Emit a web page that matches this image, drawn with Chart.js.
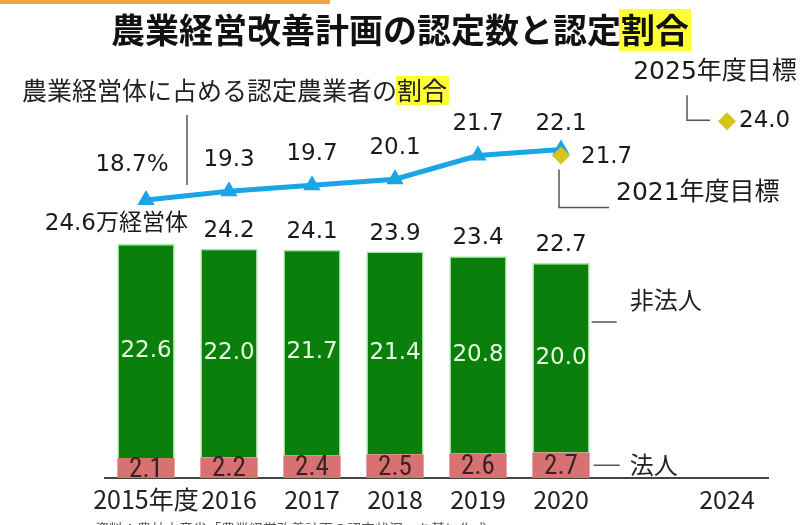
<!DOCTYPE html>
<html><head><meta charset="utf-8">
<script src="https://cdn.jsdelivr.net/npm/chart.js@4.4.1/dist/chart.umd.min.js"></script>
<style>html,body{margin:0;padding:0;background:#fff;} canvas{display:block;}</style>
</head><body>
<canvas id="c" width="810" height="525"></canvas>
<script>
// ---- data ----
const categories = ['2015年度','2016','2017','2018','2019','2020','','2024'];
const corporate = [2.1,2.2,2.4,2.5,2.6,2.7,null,null];          // 法人
const nonCorporate = [22.6,22.0,21.7,21.4,20.8,20.0,null,null];  // 非法人
const totalLabels = ['24.6万経営体','24.2','24.1','23.9','23.4','22.7'];
const shareRate = [18.7,19.3,19.7,20.1,21.7,22.1,null,null];     // 割合 (%)
const shareLabels = ['18.7%','19.3','19.7','20.1','21.7','22.1'];
const target2021 = [null,null,null,null,null,21.7,null,null];
const target2025 = [null,null,null,null,null,null,null,24.0];
const titleMain = '農業経営改善計画の認定数と認定';
const titleHi = '割合';
const subMain = '農業経営体に占める認定農業者の';
const subHi = '割合';
const note = '資料：農林水産省「農業経営改善計画の認定状況」を基に作成';

const JP = '"Noto Sans CJK JP", sans-serif';
const NUM = '"DejaVu Sans", "Noto Sans CJK JP", sans-serif';
const NARROW = '"Liberation Sans Narrow", "Roboto Condensed", "Liberation Sans", sans-serif';

const labelsPlugin = {
  id: 'labels',
  beforeDraw(chart) {
    const ctx = chart.ctx;
    ctx.save();
    // orange strip
    ctx.fillStyle = '#f2a444';
    ctx.fillRect(0, 0, 330, 4);
    // title
    ctx.font = 'bold 34px ' + JP;
    ctx.textBaseline = 'middle';
    const wMain = ctx.measureText(titleMain).width;
    const wHi = ctx.measureText(titleHi).width;
    const tx = 400 - (wMain + wHi) / 2;
    ctx.fillStyle = '#ffff33';
    ctx.fillRect(tx + wMain - 2, 9, wHi + 4, 42);
    ctx.fillStyle = '#111';
    ctx.textAlign = 'left';
    ctx.fillText(titleMain, tx, 30);
    ctx.fillText(titleHi, tx + wMain, 30);
    // subtitle
    ctx.font = '25px ' + JP;
    const sw = ctx.measureText(subMain).width;
    const shw = ctx.measureText(subHi).width;
    ctx.fillStyle = '#ffff33';
    ctx.fillRect(22 + sw - 1, 76, shw + 3, 29);
    ctx.fillStyle = '#222';
    ctx.fillText(subMain, 22, 90);
    ctx.fillText(subHi, 22 + sw, 90);
    ctx.strokeStyle = '#555';
    ctx.lineWidth = 1.5;
    ctx.beginPath();
    ctx.moveTo(187, 115); ctx.lineTo(187, 185);
    ctx.stroke();
    // footnote (cut by bottom edge)
    ctx.font = '14px ' + JP;
    ctx.fillStyle = '#555';
    ctx.fillText(note, 95, 529);
    ctx.restore();
  },
  afterDatasetsDraw(chart) {
    const ctx = chart.ctx;
    const area = chart.chartArea;
    const mRed = chart.getDatasetMeta(0);
    const mGreen = chart.getDatasetMeta(1);
    const mLine = chart.getDatasetMeta(2);
    const m21 = chart.getDatasetMeta(3);
    const m25 = chart.getDatasetMeta(4);
    ctx.save();
    ctx.textBaseline = 'middle';
    ctx.textAlign = 'center';
    for (let i = 0; i < categories.length; i++) {
      if (corporate[i] == null) continue;
      const r = mRed.data[i], g = mGreen.data[i];
      // red labels (clipped at the axis)
      ctx.save();
      ctx.beginPath();
      ctx.rect(r.x - r.width / 2 - 4, r.y - 8, r.width + 8, area.bottom - r.y + 7);
      ctx.clip();
      ctx.font = '27px ' + NARROW;
      ctx.fillStyle = '#3a2222';
      ctx.fillText(corporate[i].toFixed(1), r.x, (r.y + r.base) / 2 + 2);
      ctx.restore();
      // green labels
      ctx.font = '23px ' + NUM;
      ctx.fillStyle = '#e6ffe0';
      ctx.fillText(nonCorporate[i].toFixed(1), g.x, (g.y + g.base) / 2);
      // totals
      ctx.fillStyle = '#1a1a1a';
      if (i === 0) {
        ctx.textAlign = 'right';
        ctx.font = '23px ' + NUM;
        ctx.fillText(totalLabels[i], g.x + 42, g.y - 20);
        ctx.textAlign = 'center';
      } else {
        ctx.fillText(totalLabels[i], g.x, g.y - 18);
      }
    }
    // share labels
    ctx.font = '23px ' + NUM;
    ctx.fillStyle = '#1a1a1a';
    for (let i = 0; i < shareLabels.length; i++) {
      const p = mLine.data[i];
      if (i === 0) ctx.fillText(shareLabels[i], p.x - 14, p.y - 35);
      else ctx.fillText(shareLabels[i], p.x, p.y - (i === 5 ? 26 : 31));
    }
    ctx.strokeStyle = '#555';
    ctx.lineWidth = 1.5;
    // 2021 target
    const i21 = target2021.findIndex(v => v != null);
    const p21 = m21.data[i21];
    ctx.textAlign = 'left';
    ctx.fillText(target2021[i21].toFixed(1), p21.x + 20, p21.y + 2);
    ctx.beginPath();
    ctx.moveTo(p21.x - 2, p21.y + 14); ctx.lineTo(p21.x - 2, p21.y + 52); ctx.lineTo(p21.x + 48, p21.y + 52);
    ctx.stroke();
    ctx.font = '25px ' + NUM;
    ctx.fillText('2021年度目標', p21.x + 55, p21.y + 38);
    // 2025 target
    const i25 = target2025.findIndex(v => v != null);
    const p25 = m25.data[i25];
    ctx.font = '23px ' + NUM;
    ctx.fillText(target2025[i25].toFixed(1), p25.x + 12, p25.y);
    ctx.beginPath();
    ctx.moveTo(p25.x - 40, p25.y - 26); ctx.lineTo(p25.x - 40, p25.y - 1); ctx.lineTo(p25.x - 17, p25.y - 1);
    ctx.stroke();
    ctx.font = '25px ' + NUM;
    ctx.textAlign = 'center';
    ctx.fillText('2025年度目標', p25.x - 12, p25.y - 49);
    // series labels
    const last = corporate.filter(v => v != null).length - 1;
    const rl = mRed.data[last], gl = mGreen.data[last];
    const xr = rl.x + rl.width / 2;
    ctx.beginPath();
    ctx.moveTo(xr + 2, 322); ctx.lineTo(xr + 27, 322);
    ctx.moveTo(xr + 4, (rl.y + rl.base) / 2); ctx.lineTo(xr + 30, (rl.y + rl.base) / 2);
    ctx.stroke();
    ctx.font = '24px ' + JP;
    ctx.textAlign = 'left';
    ctx.fillStyle = '#222';
    ctx.fillText('非法人', xr + 40, 300);
    ctx.fillText('法人', xr + 40, (rl.y + rl.base) / 2);
    ctx.restore();
  }
};

new Chart(document.getElementById('c'), {
  data: {
    labels: categories,
    datasets: [
      { type: 'bar', label: '法人', data: corporate, yAxisID: 'y', backgroundColor: '#d87272',
        borderWidth: 0, barPercentage: 0.69, categoryPercentage: 1, order: 3 },
      { type: 'bar', label: '非法人', data: nonCorporate, yAxisID: 'y', backgroundColor: '#0b7f0b',
        borderColor: '#a6e6a6', borderWidth: 1.5, barPercentage: 0.69, categoryPercentage: 1, order: 3 },
      { type: 'line', label: '割合', data: shareRate, yAxisID: 'y2', borderColor: '#1aa6e4', borderWidth: 5,
        pointStyle: 'triangle', pointRadius: 10, pointBackgroundColor: '#1aa6e4', pointBorderWidth: 0,
        spanGaps: false, order: 2 },
      { type: 'line', label: '2021年度目標', data: target2021, yAxisID: 'y2', showLine: false,
        pointStyle: 'rectRot', pointRadius: 9, pointBackgroundColor: '#d6c31c', pointBorderWidth: 0, order: 1 },
      { type: 'line', label: '2025年度目標', data: target2025, yAxisID: 'y2', showLine: false,
        pointStyle: 'rectRot', pointRadius: 9, pointBackgroundColor: '#d6c31c', pointBorderWidth: 0, order: 1 }
    ]
  },
  options: {
    responsive: false,
    animation: false,
    devicePixelRatio: 1,
    layout: { padding: { left: 104.5, right: 41.5, top: 99, bottom: 0 } },
    plugins: { legend: { display: false }, tooltip: { enabled: false }, title: { display: false } },
    scales: {
      x: {
        stacked: true, offset: true,
        grid: { display: false, drawTicks: false },
        border: { display: true, color: '#444', width: 2 },
        ticks: { font: { size: 25, family: JP }, color: '#222', padding: 6, maxRotation: 0, autoSkip: false },
        afterFit(s) { s.height = 47; }
      },
      y: { stacked: true, display: false, min: 0, max: 40 },
      y2: { display: false, min: 0, max: 25.5 }
    }
  },
  plugins: [labelsPlugin]
});
</script>
</body></html>
